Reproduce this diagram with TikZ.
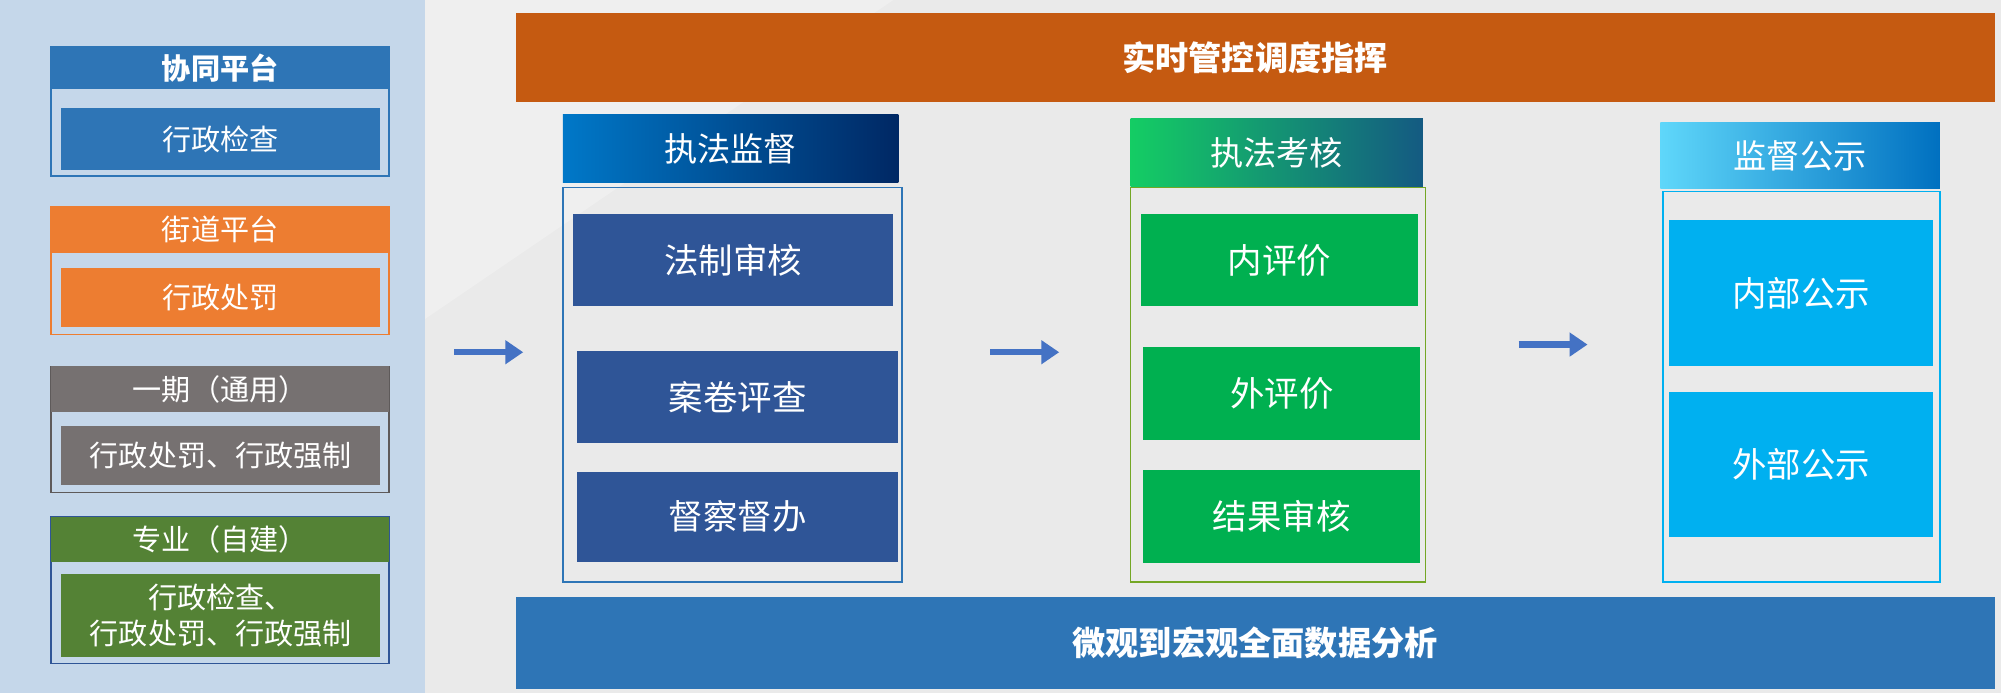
\documentclass[tikz,border=0pt]{standalone}
\usepackage{fontspec}
\setmainfont{Noto Sans CJK SC}
\usetikzlibrary{arrows.meta}
\definecolor{bg}{HTML}{EAEAEA}
\definecolor{lp}{HTML}{C5D7EA}
\definecolor{cblue}{HTML}{2E75B6}
\definecolor{corange}{HTML}{ED7D31}
\definecolor{cgray}{HTML}{767171}
\definecolor{cgreen}{HTML}{548235}
\definecolor{ctop}{HTML}{C55A11}
\definecolor{cnavy}{HTML}{2F5597}
\definecolor{cgr}{HTML}{00B050}
\definecolor{ccy}{HTML}{00B0F0}
\definecolor{arr}{HTML}{4472C4}
\newcommand\bx[7]{\node[inner sep=0pt,outer sep=0pt,align=center,text=white,#6,minimum width={(#4-#2)*0.5pt},minimum height={(#5-#3)*0.5pt}] (#1) at ({(#2+#4)/2},{(#3+#5)/2}) {#7};}
\tikzset{lt/.style={font=\fontsize{11.4}{14}\selectfont},
lbt/.style={font=\bfseries\fontsize{11.4}{14}\selectfont},
ht/.style={font=\fontsize{13}{15}\selectfont},
it/.style={font=\fontsize{13.5}{16}\selectfont},
bt/.style={font=\bfseries\fontsize{13}{15}\selectfont},
ar/.style={draw=arr,line width=2.5pt,-{Triangle[length=7pt,width=9pt]}}}
\begin{document}
\begin{tikzpicture}[x=0.5pt,y=-0.5pt]
\fill[bg] (0,0) rectangle (1568,543);
\fill[white,opacity=0.25] (333,0) -- (700,0) -- (333,250) -- cycle;
\fill[lp] (0,0) rectangle (333,543);
% left groups
\bx{o1}{40}{37}{305}{138}{draw=cblue,line width=0.6pt}{}
\bx{h1}{40}{37}{305}{70}{fill=cblue,lbt}{协同平台}
\bx{i1}{48}{85}{298}{133}{fill=cblue,lt}{行政检查}
\bx{o2}{40}{162}{305}{262}{draw=corange,line width=0.6pt}{}
\bx{h2}{40}{162}{305}{198}{fill=corange,lt}{街道平台}
\bx{i2}{48}{210}{298}{256}{fill=corange,lt}{行政处罚}
\bx{o3}{40}{287}{305}{386}{draw=cgray!80!black,line width=0.6pt}{}
\bx{h3}{40}{287}{305}{323}{fill=cgray,lt}{一期（通用）}
\bx{i3}{48}{334}{298}{380}{fill=cgray,lt}{行政处罚、行政强制}
\bx{o4}{40}{405}{305}{520}{draw=cnavy,line width=0.6pt}{}
\bx{h4}{40}{405}{305}{440}{fill=cgreen,lt}{专业（自建）}
\bx{i4}{48}{450}{298}{515}{fill=cgreen,lt}{行政检查、\\行政处罚、行政强制}
% bars
\bx{top}{404}{10}{1563}{80}{fill=ctop,bt}{实时管控调度指挥}
\bx{bot}{404}{468}{1563}{540}{fill=cblue,bt}{微观到宏观全面数据分析}
% column 1
\bx{c1o}{441}{147}{707}{456}{draw=cblue,line width=0.6pt}{}
\bx{c1h}{441}{90}{704}{143}{left color={rgb,255:red,0;green,120;blue,200},right color={rgb,255:red,0;green,40;blue,100},ht}{执法监督}
\bx{c1a}{449}{168}{700}{240}{fill=cnavy,it}{法制审核}
\bx{c1b}{452}{275}{704}{347}{fill=cnavy,it}{案卷评查}
\bx{c1c}{452}{370}{704}{440}{fill=cnavy,it}{督察督办}
% column 2
\bx{c2o}{886}{147}{1117}{456}{draw=cgreen!70!lime,line width=0.6pt}{}
\bx{c2h}{886}{93}{1115}{146}{left color={rgb,255:red,20;green,205;blue,100},right color={rgb,255:red,20;green,90;blue,130},ht}{执法考核}
\bx{c2a}{894}{168}{1111}{240}{fill=cgr,it}{内评价}
\bx{c2b}{896}{272}{1113}{345}{fill=cgr,it}{外评价}
\bx{c2c}{896}{368}{1113}{441}{fill=cgr,it}{结果审核}
% column 3
\bx{c3o}{1303}{150}{1520}{456}{draw=ccy,line width=0.6pt}{}
\bx{c3h}{1301}{96}{1520}{148}{left color={rgb,255:red,95;green,215;blue,250},right color={rgb,255:red,0;green,112;blue,192},ht}{监督公示}
\bx{c3a}{1308}{172}{1515}{287}{fill=ccy,it}{内部公示}
\bx{c3b}{1308}{307}{1515}{421}{fill=ccy,it}{外部公示}
% arrows
\coordinate (a1s) at (356,276); \coordinate (a1e) at (410,276);
\coordinate (a2s) at (776,276); \coordinate (a2e) at (830,276);
\coordinate (a3s) at (1190,270); \coordinate (a3e) at (1244,270);
\draw[ar] (a1s) -- (a1e);
\draw[ar] (a2s) -- (a2e);
\draw[ar] (a3s) -- (a3e);
\end{tikzpicture}
\end{document}
